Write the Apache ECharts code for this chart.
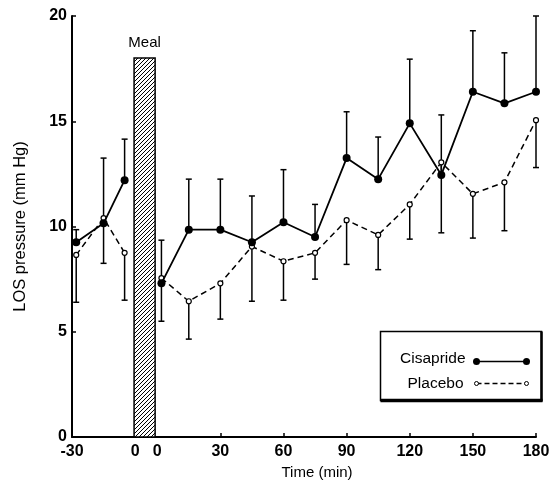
<!DOCTYPE html>
<html>
<head>
<meta charset="utf-8">
<script src="https://cdn.jsdelivr.net/npm/echarts@6/dist/echarts.min.js"></script>
<style>
html,body{margin:0;padding:0;background:#fff;}
#chart{width:555px;height:487px;}
</style>
</head>
<body>
<div id="chart"></div>
<script>
// ---- data (minutes relative to meal; pre-meal and post-meal phases) ----
var timePre = [-28, -15, -5];
var timePost = [2, 15, 30, 45, 60, 75, 90, 105, 120, 135, 150, 165, 180];

var cisaprideMeanPre = [9.25, 10.15, 12.2];
var cisaprideUpperPre = [9.85, 13.25, 14.15];
var cisaprideMeanPost = [7.3, 9.85, 9.85, 9.25, 10.2, 9.5, 13.25, 12.25, 14.9, 12.45, 16.4, 15.85, 16.4];
var cisaprideUpperPost = [9.35, 12.25, 12.25, 11.45, 12.7, 11.05, 15.45, 14.25, 17.95, 15.3, 19.3, 18.25, 20.0];

var placeboMeanPre = [8.65, 10.4, 8.75];
var placeboLowerPre = [6.4, 8.25, 6.5];
var placeboMeanPost = [7.55, 6.45, 7.3, 9.05, 8.35, 8.75, 10.3, 9.6, 11.05, 13.05, 11.55, 12.1, 15.05];
var placeboLowerPost = [5.5, 4.65, 5.6, 6.45, 6.5, 7.5, 8.2, 7.95, 9.4, 9.7, 9.45, 9.8, 12.8];

var preTickLabels = [-30, 0];
var postTickLabels = [0, 30, 60, 90, 120, 150, 180];
var mealStart = 0, mealEnd = 10, mealHeight = 18;

// The axis is broken by the meal: post-meal minutes are shifted right by the meal gap
var MEAL_GAP = 10.5;
function preX(t){ return t; }
function postX(t){ return t + MEAL_GAP; }

function pairs(times, vals, fx){ return times.map(function(t,i){ return [fx(t), vals[i]]; }); }
function triples(times, a, b, fx){ return times.map(function(t,i){ return [fx(t), a[i], b[i]]; }); }

var FONT = '"Liberation Sans", Arial, Helvetica, sans-serif';

// hatch pattern for meal bar
var pc = document.createElement('canvas');
pc.width = 4; pc.height = 4;
var g = pc.getContext('2d');
g.fillStyle = '#fff'; g.fillRect(0,0,4,4);
g.strokeStyle = '#000'; g.lineWidth = 1;
g.beginPath();
g.moveTo(0,4); g.lineTo(4,0);
g.moveTo(-1,1); g.lineTo(1,-1);
g.moveTo(3,5); g.lineTo(5,3);
g.stroke();

function errRender(params, api){
  var x = api.value(0), v = api.value(1), e = api.value(2);
  var p1 = api.coord([x, v]), p2 = api.coord([x, e]);
  var w = 3;
  return {
    type: 'group',
    children: [
      {type:'line', shape:{x1:p1[0], y1:p1[1], x2:p2[0], y2:p2[1]}, style:{stroke:'#000', lineWidth:1.5}},
      {type:'line', shape:{x1:p2[0]-w, y1:p2[1], x2:p2[0]+w, y2:p2[1]}, style:{stroke:'#000', lineWidth:1.5}}
    ]
  };
}

var allX = preTickLabels.map(preX).concat(postTickLabels.map(postX));

var option = {
  animation: false,
  backgroundColor: '#fff',
  grid: {left: 72, right: 19, top: 16, bottom: 50, containLabel: false},
  xAxis: {
    type: 'value',
    min: -30, max: postX(180),
    name: 'Time (min)',
    nameLocation: 'middle',
    nameGap: 25,
    nameTextStyle: {fontFamily: FONT, fontSize: 15, color: '#000', padding: [0,0,0,26]},
    axisLine: {onZero: false, lineStyle: {color:'#000', width: 2}},
    axisTick: {show: true, inside: true, length: 4, lineStyle:{color:'#000', width:1.5},
               customValues: postTickLabels.slice(1).map(postX)},
    axisLabel: {
      customValues: allX,
      margin: 7,
      color: '#000', fontFamily: FONT, fontSize: 16, fontWeight: 'bold',
      formatter: function(v){
        if (v <= 0.01) return String(Math.round(v));
        return String(Math.round(v - MEAL_GAP));
      }
    },
    splitLine: {show: false}
  },
  yAxis: {
    type: 'value',
    min: 0, max: 20, interval: 5,
    name: 'LOS pressure (mm Hg)',
    nameLocation: 'middle',
    nameGap: 43,
    nameTextStyle: {fontFamily: FONT, fontSize: 16.5, color: '#000'},
    axisLine: {show: true, onZero: false, lineStyle: {color:'#000', width: 2}},
    axisTick: {show: true, inside: true, length: 4, lineStyle:{color:'#000', width:1.5}},
    axisLabel: {color:'#000', fontFamily: FONT, fontSize: 16, fontWeight: 'bold', margin: 5},
    splitLine: {show: false}
  },
  series: [
    {
      type: 'custom', name: 'Meal', z: 1,
      data: [[mealStart, mealEnd, mealHeight]],
      renderItem: function(params, api){
        var a = api.coord([api.value(0) - 0.5, api.value(2)]);
        var b = api.coord([api.value(1) - 0.5, 0]);
        var c = api.coord([(api.value(0)+api.value(1))/2 - 0.5, api.value(2)]);
        return {type:'group', children:[
          {type:'rect', shape:{x:a[0], y:a[1], width:b[0]-a[0], height:b[1]-a[1]},
           style:{fill:{image: pc, repeat:'repeat'}, stroke:'#000', lineWidth:1.5}},
          {type:'text', x:c[0], y:a[1]-15, style:{text:'Meal', fill:'#000', font:'15px '+FONT, align:'center', verticalAlign:'middle'}}
        ]};
      },
      silent: true
    },
    {type:'custom', z:3, data: triples(timePre, cisaprideMeanPre, cisaprideUpperPre, preX), renderItem: errRender, silent:true},
    {type:'custom', z:3, data: triples(timePost, cisaprideMeanPost, cisaprideUpperPost, postX), renderItem: errRender, silent:true},
    {type:'custom', z:3, data: triples(timePre, placeboMeanPre, placeboLowerPre, preX), renderItem: errRender, silent:true},
    {type:'custom', z:3, data: triples(timePost, placeboMeanPost, placeboLowerPost, postX), renderItem: errRender, silent:true},
    {type:'line', name:'Placebo', z:4, data: pairs(timePre, placeboMeanPre, preX),
     lineStyle:{color:'#000', width:1.5, type:[6,4]}, symbol:'circle', symbolSize:5,
     itemStyle:{color:'#fff', borderColor:'#000', borderWidth:1.2}},
    {type:'line', name:'Placebo', z:4, data: pairs(timePost, placeboMeanPost, postX),
     lineStyle:{color:'#000', width:1.5, type:[6,4]}, symbol:'circle', symbolSize:5,
     itemStyle:{color:'#fff', borderColor:'#000', borderWidth:1.2}},
    {type:'line', name:'Cisapride', z:5, data: pairs(timePre, cisaprideMeanPre, preX),
     lineStyle:{color:'#000', width:1.8}, symbol:'circle', symbolSize:8,
     itemStyle:{color:'#000'}},
    {type:'line', name:'Cisapride', z:5, data: pairs(timePost, cisaprideMeanPost, postX),
     lineStyle:{color:'#000', width:1.8}, symbol:'circle', symbolSize:8,
     itemStyle:{color:'#000'}}
  ],
  graphic: [
    {type:'group', left: 378, top: 329, children: [
      {type:'rect', shape:{x:0, y:0, width:161, height:69}, style:{fill:'#fff', stroke:'#000', lineWidth:1.5}},
      {type:'line', shape:{x1:0, y1:69, x2:162, y2:69}, style:{stroke:'#000', lineWidth:3.5}},
      {type:'line', shape:{x1:161, y1:0, x2:161, y2:70}, style:{stroke:'#000', lineWidth:2.5}},
      {type:'text', x:85, y:27, style:{text:'Cisapride', fill:'#000', font:'15.5px '+FONT, align:'right', verticalAlign:'middle'}},
      {type:'line', shape:{x1:96, y1:30, x2:146, y2:30}, style:{stroke:'#000', lineWidth:1.5}},
      {type:'circle', shape:{cx:96, cy:30, r:3.5}, style:{fill:'#000'}},
      {type:'circle', shape:{cx:146, cy:30, r:3.5}, style:{fill:'#000'}},
      {type:'text', x:83, y:52, style:{text:'Placebo', fill:'#000', font:'15.5px '+FONT, align:'right', verticalAlign:'middle'}},
      {type:'line', shape:{x1:96, y1:52, x2:146, y2:52}, style:{stroke:'#000', lineWidth:1.3, lineDash:[5,3]}},
      {type:'circle', shape:{cx:96, cy:52, r:2}, style:{fill:'#fff', stroke:'#000', lineWidth:1}},
      {type:'circle', shape:{cx:146, cy:52, r:2}, style:{fill:'#fff', stroke:'#000', lineWidth:1}}
    ]}
  ]
};

var chart = echarts.init(document.getElementById('chart'));
chart.setOption(option);
</script>
</body>
</html>
